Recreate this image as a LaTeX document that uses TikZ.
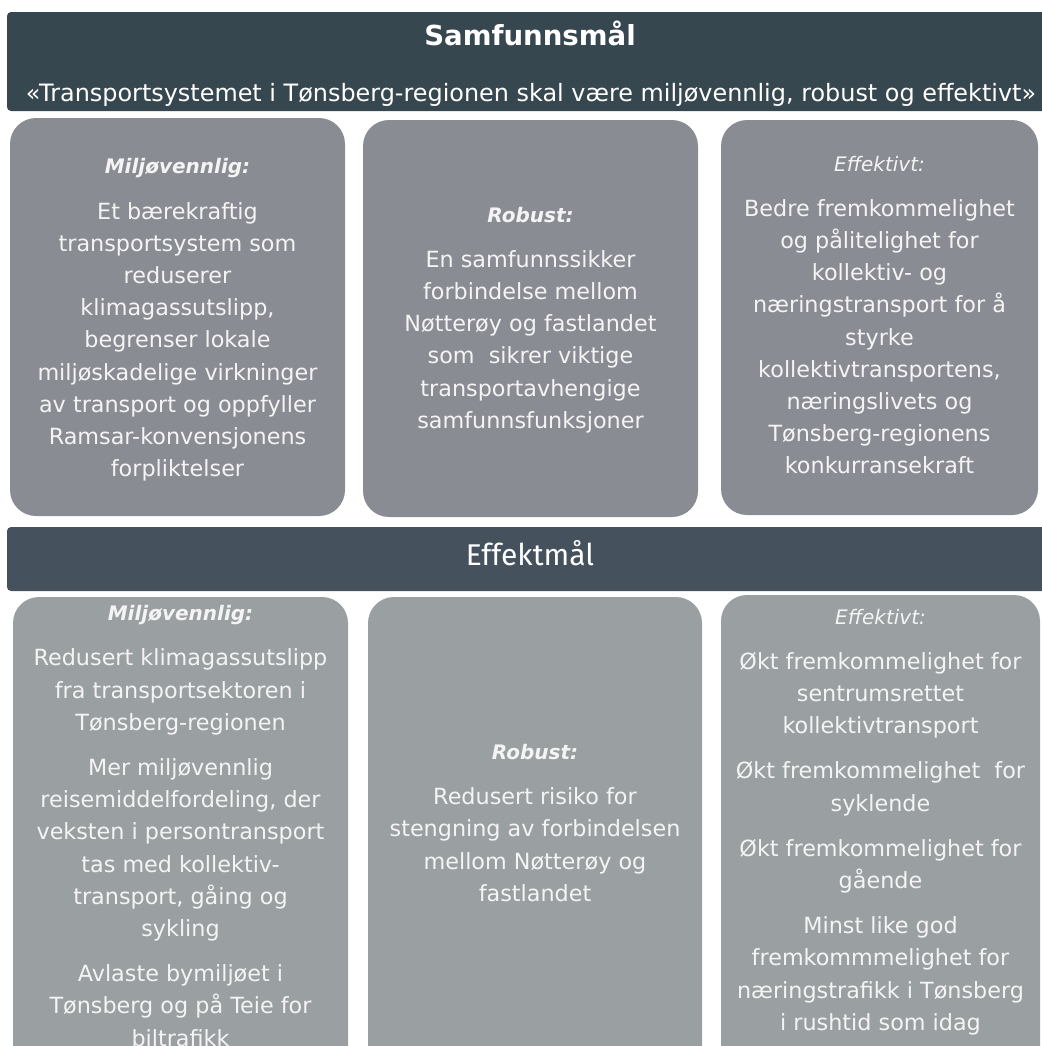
\documentclass[tikz,border=0pt]{standalone}
\usepackage{fontspec}
\setmainfont{DejaVu Sans}
\newfontfamily\titlefont{Fira Sans}
\usepackage{tikz}
\usetikzlibrary{positioning}
\definecolor{barDark}{HTML}{37474F}
\definecolor{barMid}{HTML}{45525E}
\definecolor{boxTop}{HTML}{898C92}
\definecolor{boxLow}{HTML}{9A9FA2}
\definecolor{boxText}{HTML}{F4F4F4}
\newcommand{\boxhead}[1]{{\fontsize{10}{16}\selectfont\bfseries\itshape #1}}
\newcommand{\boxheadlight}[1]{{\fontsize{10}{16}\selectfont\itshape #1}}

\begin{document}
\begin{tikzpicture}[x=0.5pt, y=-0.5pt,
  headbar/.style={fill=barDark, rounded corners=2pt, minimum width=520pt, inner sep=0pt},
  goalbox/.style={fill=boxTop, rounded corners=13pt, inner sep=0pt},
  effectbox/.style={fill=boxLow, rounded corners=13pt, inner sep=0pt, minimum height=241.5pt},
  boxtext/.style={text=boxText, align=center, inner sep=0pt, font=\fontsize{11.15}{16.1}\selectfont},
  bartitle/.style={text=white, inner sep=0pt},
]
  \useasboundingbox (0,0) rectangle (1042,1046);
  \clip (0,0) rectangle (1042,1046);

  % Samfunnsmaal
  \node[headbar, minimum height=49.5pt] (samfunnbar) at (527,61.5) {};
  \node[bartitle, font=\bfseries\fontsize{13.8}{16}\selectfont] (samfunnsmal) at (530,33) {Samfunnsmål};
  \node[bartitle, font=\fontsize{11.95}{14}\selectfont] (visjon) at (531,95)
    {«Transportsystemet i Tønsberg-regionen skal være miljøvennlig, robust og effektivt»};

  % Row 1
  \node[goalbox, minimum width=167.5pt, minimum height=199pt] (miljoA) at (177.5,317) {};
  \node[goalbox, minimum width=167.5pt, minimum height=198.5pt] (robustA) at (530.5,318.5) {};
  \node[goalbox, minimum width=158.5pt, minimum height=197.5pt] (effektA) at (879.5,317.5) {};

  \node[boxtext] (miljoAtxt) at (177.5,320) {\boxhead{Miljøvennlig:}\\[6.5pt]
    Et bærekraftig\\ transportsystem som\\ reduserer\\ klimagassutslipp,\\
    begrenser lokale\\ miljøskadelige virkninger\\ av transport og oppfyller\\
    Ramsar-konvensjonens\\ forpliktelser};
  \node[boxtext] (robustAtxt) at (530.5,320) {\boxhead{Robust:}\\[6.5pt]
    En samfunnssikker\\ forbindelse mellom\\ Nøtterøy og fastlandet\\
    som\ \ sikrer viktige\\ transportavhengige\\ samfunnsfunksjoner};
  \node[boxtext] (effektAtxt) at (879.5,315) {\boxheadlight{Effektivt:}\\[6.5pt]
    Bedre fremkommelighet\\ og pålitelighet for\\ kollektiv- og\\
    næringstransport for å\\ styrke\\ kollektivtransportens,\\
    næringslivets og\\ Tønsberg-regionens\\ konkurransekraft};

  % Effektmaal
  \node[headbar, fill=barMid, minimum height=32pt] (effektbar) at (527,559) {};
  \node[bartitle, font=\titlefont\fontsize{15}{16}\selectfont] (effektmal) at (530,553) {Effektmål};

  % Row 2
  \node[effectbox, minimum width=167.5pt] (miljoB) at (180.5,838.5) {};
  \node[effectbox, minimum width=167pt] (robustB) at (535,838.5) {};
  \node[effectbox, minimum width=159.5pt] (effektB) at (880.5,836.5) {};

  \node[boxtext] (miljoBtxt) at (180.5,826) {\boxhead{Miljøvennlig:}\\[6.5pt]
    Redusert klimagassutslipp\\ fra transportsektoren i\\ Tønsberg-regionen\\[6.5pt]
    Mer miljøvennlig\\ reisemiddelfordeling, der\\ veksten i persontransport\\
    tas med kollektiv-\\ transport, gåing og\\ sykling\\[6.5pt]
    Avlaste bymiljøet i\\ Tønsberg og på Teie for\\ biltrafikk};
  \node[boxtext] (robustBtxt) at (535,823) {\boxhead{Robust:}\\[6.5pt]
    Redusert risiko for\\ stengning av forbindelsen\\ mellom Nøtterøy og\\ fastlandet};
  \node[boxtext] (effektBtxt) at (880.5,822) {\boxheadlight{Effektivt:}\\[6.5pt]
    Økt fremkommelighet for\\ sentrumsrettet\\ kollektivtransport\\[6.5pt]
    Økt fremkommelighet\ \ for\\ syklende\\[6.5pt]
    Økt fremkommelighet for\\ gående\\[6.5pt]
    Minst like god\\ fremkommmelighet for\\ næringstrafikk i Tønsberg\\ i rushtid som idag};
\end{tikzpicture}
\end{document}
